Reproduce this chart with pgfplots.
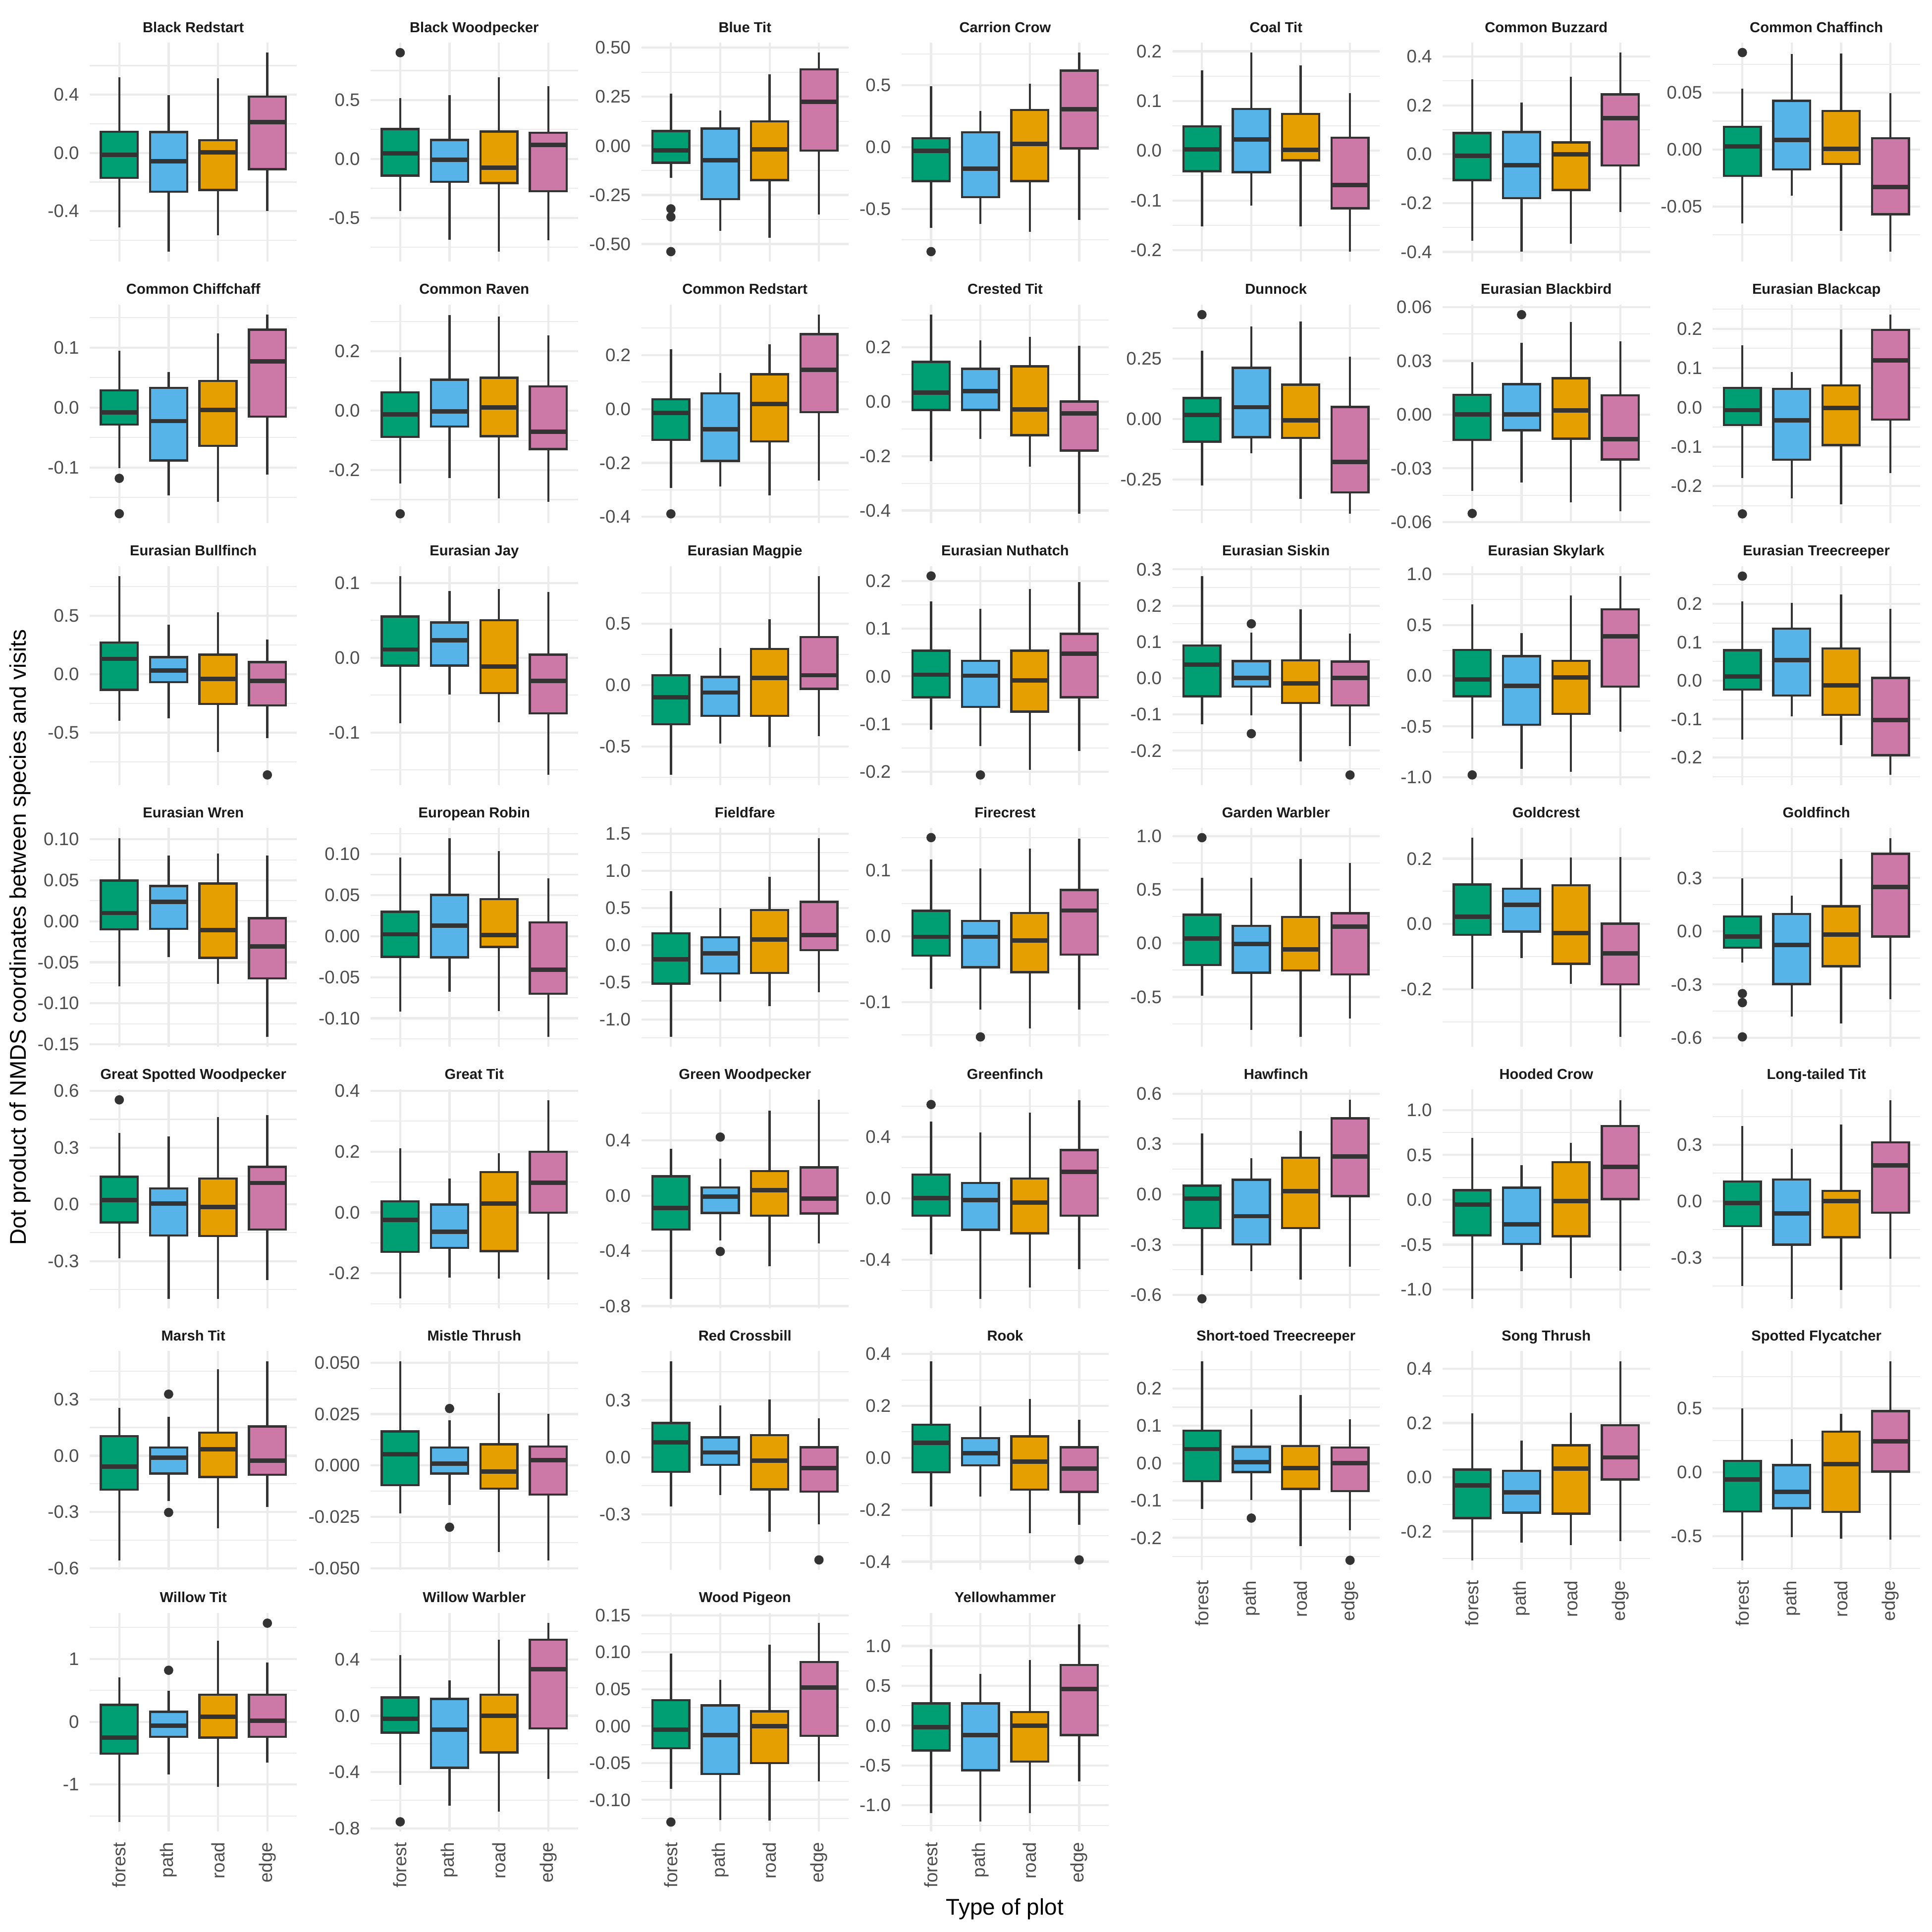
\documentclass[border=0pt]{standalone}
\usepackage{fontspec}
\setmainfont{Liberation Sans}
\usepackage{pgfplots}
\pgfplotsset{compat=1.18}
\usepgfplotslibrary{statistics}
\definecolor{cF}{HTML}{009E73}
\definecolor{cP}{HTML}{56B4E9}
\definecolor{cR}{HTML}{E69F00}
\definecolor{cE}{HTML}{CC79A7}
\definecolor{c20}{HTML}{333333}
\definecolor{c30}{HTML}{4D4D4D}
\definecolor{c10}{HTML}{1A1A1A}
\definecolor{gridc}{HTML}{EBEBEB}
\pgfplotsset{
  panel/.style={
    scale only axis, width=100.44pt, height=106.03pt, anchor=south west,
    xmin=0.4, xmax=4.6, xtick={1,2,3,4}, xticklabels={,,,},
    scaled y ticks=false, scaled x ticks=false,
    axis line style={draw=none}, major tick length=0pt, minor tick length=0pt,
    xmajorgrids=true, ymajorgrids=true, yminorgrids=true,
    major grid style={draw=gridc, line width=1pt},
    minor grid style={draw=gridc, line width=0.5pt},
    yticklabel style={font=\fontsize{8.8}{10}\selectfont, text=c30, inner sep=0pt, anchor=east},
    xticklabel style={font=\fontsize{8.8}{10}\selectfont, text=c30, inner sep=0pt, rotate=90, anchor=east},
    yticklabel shift=4.95pt, xticklabel shift=4.95pt,
    every axis title/.style={at={(0.5,1)}, anchor=base, yshift=5pt, inner sep=0pt, font=\fontsize{7}{8}\selectfont\bfseries, text=c10},
  },
  bottom/.style={xticklabels={forest,path,road,edge}},
  bx/.style={draw=c20, line width=1.07pt, solid, mark=*, mark size=2.1pt,
    mark options={draw=c20, fill=c20, line width=0.3pt, solid},
    boxplot/draw direction=y,
    boxplot/box extend=0.75, boxplot/whisker extend=0,
    boxplot/every median/.style={line width=2.13pt}},
}
\newcommand{\bx}[8]{\addplot[bx, fill=#2, boxplot prepared={draw direction=y, draw position=#1, lower whisker=#3, lower quartile=#4, median=#5, upper quartile=#6, upper whisker=#7}] coordinates {#8};}
\begin{document}
\begin{tikzpicture}
\useasboundingbox (0pt,0pt) rectangle (936pt,936pt);
% ---------------- Row 1
\begin{axis}[panel, at={(43.44pt,809.23pt)}, title={Black Redstart}, ymin=-0.747, ymax=0.757, ytick={-0.4,0,0.4}, yticklabels={-0.4,0.0,0.4}, minor ytick={-0.6,-0.2,0.2,0.6}]
\bx{1}{cF}{-0.513}{-0.172}{-0.014}{0.146}{0.520}{}
\bx{2}{cP}{-0.679}{-0.267}{-0.058}{0.143}{0.396}{}
\bx{3}{cR}{-0.566}{-0.254}{0.005}{0.088}{0.512}{}
\bx{4}{cE}{-0.400}{-0.111}{0.211}{0.388}{0.689}{}
\end{axis}
\begin{axis}[panel, at={(179.54pt,809.23pt)}, title={Black Woodpecker}, ymin=-0.872, ymax=0.986, ytick={-0.5,0,0.5}, yticklabels={-0.5,0.0,0.5}, minor ytick={-0.75,-0.25,0.25,0.75}]
\bx{1}{cF}{-0.442}{-0.142}{0.049}{0.254}{0.515}{(1,0.902)}
\bx{2}{cP}{-0.686}{-0.195}{-0.006}{0.161}{0.541}{}
\bx{3}{cR}{-0.788}{-0.205}{-0.073}{0.232}{0.694}{}
\bx{4}{cE}{-0.690}{-0.274}{0.118}{0.222}{0.617}{}
\end{axis}
\begin{axis}[panel, at={(310.68pt,809.23pt)}, title={Blue Tit}, ymin=-0.590, ymax=0.525, ytick={-0.5,-0.25,0,0.25,0.5}, yticklabels={-0.50,-0.25,0.00,0.25,0.50}, minor ytick={-0.375,-0.125,0.125,0.375}]
\bx{1}{cF}{-0.163}{-0.086}{-0.024}{0.075}{0.266}{(1,-0.321) (1,-0.362) (1,-0.539)}
\bx{2}{cP}{-0.433}{-0.271}{-0.073}{0.088}{0.181}{}
\bx{3}{cR}{-0.469}{-0.174}{-0.019}{0.125}{0.365}{}
\bx{4}{cE}{-0.349}{-0.024}{0.224}{0.390}{0.475}{}
\end{axis}
\begin{axis}[panel, at={(436.73pt,809.23pt)}, title={Carrion Crow}, ymin=-0.925, ymax=0.842, ytick={-0.5,0,0.5}, yticklabels={-0.5,0.0,0.5}, minor ytick={-0.75,-0.25,0.25,0.75}]
\bx{1}{cF}{-0.653}{-0.274}{-0.031}{0.071}{0.491}{(1,-0.844)}
\bx{2}{cP}{-0.619}{-0.405}{-0.176}{0.119}{0.292}{}
\bx{3}{cR}{-0.686}{-0.274}{0.025}{0.300}{0.512}{}
\bx{4}{cE}{-0.587}{-0.011}{0.306}{0.617}{0.763}{}
\end{axis}
\begin{axis}[panel, at={(567.96pt,809.23pt)}, title={Coal Tit}, ymin=-0.223, ymax=0.217, ytick={-0.2,-0.1,0,0.1,0.2}, yticklabels={-0.2,-0.1,0.0,0.1,0.2}, minor ytick={-0.15,-0.05,0.05,0.15}]
\bx{1}{cF}{-0.152}{-0.041}{0.003}{0.049}{0.162}{}
\bx{2}{cP}{-0.110}{-0.043}{0.023}{0.084}{0.197}{}
\bx{3}{cR}{-0.152}{-0.019}{0.002}{0.074}{0.172}{}
\bx{4}{cE}{-0.203}{-0.116}{-0.069}{0.026}{0.116}{}
\end{axis}
\begin{axis}[panel, at={(698.88pt,809.23pt)}, title={Common Buzzard}, ymin=-0.440, ymax=0.456, ytick={-0.4,-0.2,0,0.2,0.4}, yticklabels={-0.4,-0.2,0.0,0.2,0.4}, minor ytick={-0.3,-0.1,0.1,0.3}]
\bx{1}{cF}{-0.355}{-0.106}{-0.006}{0.087}{0.306}{}
\bx{2}{cP}{-0.399}{-0.180}{-0.046}{0.091}{0.212}{}
\bx{3}{cR}{-0.367}{-0.147}{-0.001}{0.048}{0.317}{}
\bx{4}{cE}{-0.237}{-0.046}{0.147}{0.245}{0.416}{}
\end{axis}
\begin{axis}[panel, at={(829.78pt,809.23pt)}, title={Common Chaffinch}, ymin=-0.0985, ymax=0.0939, ytick={-0.05,0,0.05}, yticklabels={-0.05,0.00,0.05}, minor ytick={-0.075,-0.025,0.025,0.075}]
\bx{1}{cF}{-0.0648}{-0.0232}{0.0028}{0.0199}{0.0536}{(1,0.0853)}
\bx{2}{cP}{-0.0406}{-0.0175}{0.0083}{0.0429}{0.0840}{}
\bx{3}{cR}{-0.0713}{-0.0126}{0.0006}{0.0340}{0.0845}{}
\bx{4}{cE}{-0.0897}{-0.0569}{-0.0328}{0.0100}{0.0496}{}
\end{axis}
% ---------------- Row 2
\begin{axis}[panel, at={(43.44pt,682.46pt)}, title={Common Chiffchaff}, ymin=-0.193, ymax=0.172, ytick={-0.1,0,0.1}, yticklabels={-0.1,0.0,0.1}, minor ytick={-0.15,-0.05,0.05,0.15}]
\bx{1}{cF}{-0.1008}{-0.0285}{-0.0079}{0.0285}{0.0944}{(1,-0.118) (1,-0.177)}
\bx{2}{cP}{-0.1465}{-0.0882}{-0.0225}{0.0330}{0.0589}{}
\bx{3}{cR}{-0.157}{-0.0637}{-0.0039}{0.0445}{0.124}{}
\bx{4}{cE}{-0.112}{-0.0149}{0.0772}{0.130}{0.155}{}
\end{axis}
\begin{axis}[panel, at={(179.54pt,682.46pt)}, title={Common Raven}, ymin=-0.380, ymax=0.358, ytick={-0.2,0,0.2}, yticklabels={-0.2,0.0,0.2}, minor ytick={-0.3,-0.1,0.1,0.3}]
\bx{1}{cF}{-0.246}{-0.089}{-0.013}{0.062}{0.181}{(1,-0.348)}
\bx{2}{cP}{-0.228}{-0.054}{-0.002}{0.104}{0.323}{}
\bx{3}{cR}{-0.296}{-0.086}{0.011}{0.111}{0.318}{}
\bx{4}{cE}{-0.307}{-0.130}{-0.071}{0.082}{0.254}{}
\end{axis}
\begin{axis}[panel, at={(310.68pt,682.46pt)}, title={Common Redstart}, ymin=-0.424, ymax=0.388, ytick={-0.4,-0.2,0,0.2}, yticklabels={-0.4,-0.2,0.0,0.2}, minor ytick={-0.3,-0.1,0.1,0.3}]
\bx{1}{cF}{-0.293}{-0.115}{-0.014}{0.036}{0.221}{(1,-0.389)}
\bx{2}{cP}{-0.287}{-0.193}{-0.075}{0.058}{0.133}{}
\bx{3}{cR}{-0.320}{-0.120}{0.018}{0.129}{0.241}{}
\bx{4}{cE}{-0.265}{-0.012}{0.145}{0.278}{0.350}{}
\end{axis}
\begin{axis}[panel, at={(436.73pt,682.46pt)}, title={Crested Tit}, ymin=-0.447, ymax=0.358, ytick={-0.4,-0.2,0,0.2}, yticklabels={-0.4,-0.2,0.0,0.2}, minor ytick={-0.3,-0.1,0.1,0.3}]
\bx{1}{cF}{-0.218}{-0.030}{0.034}{0.147}{0.320}{}
\bx{2}{cP}{-0.136}{-0.030}{0.039}{0.121}{0.226}{}
\bx{3}{cR}{-0.239}{-0.123}{-0.028}{0.130}{0.238}{}
\bx{4}{cE}{-0.412}{-0.179}{-0.042}{0.001}{0.206}{}
\end{axis}
\begin{axis}[panel, at={(567.96pt,682.46pt)}, title={Dunnock}, ymin=-0.430, ymax=0.473, ytick={-0.25,0,0.25}, yticklabels={-0.25,0.00,0.25}, minor ytick={-0.375,-0.125,0.125,0.375}]
\bx{1}{cF}{-0.273}{-0.093}{0.018}{0.087}{0.282}{(1,0.431)}
\bx{2}{cP}{-0.142}{-0.075}{0.049}{0.212}{0.383}{}
\bx{3}{cR}{-0.329}{-0.078}{-0.006}{0.142}{0.402}{}
\bx{4}{cE}{-0.390}{-0.303}{-0.177}{0.050}{0.257}{}
\end{axis}
\begin{axis}[panel, at={(698.88pt,682.46pt)}, title={Eurasian Blackbird}, ymin=-0.0607, ymax=0.0615, ytick={-0.06,-0.03,0,0.03,0.06}, yticklabels={-0.06,-0.03,0.00,0.03,0.06}, minor ytick={-0.045,-0.015,0.015,0.045}]
\bx{1}{cF}{-0.0425}{-0.0141}{0.0001}{0.0110}{0.0294}{(1,-0.0552)}
\bx{2}{cP}{-0.0379}{-0.0087}{0.0001}{0.0170}{0.0402}{(2,0.0558)}
\bx{3}{cR}{-0.049}{-0.0134}{0.0024}{0.0203}{0.0516}{}
\bx{4}{cE}{-0.054}{-0.025}{-0.0137}{0.0107}{0.0410}{}
\end{axis}
\begin{axis}[panel, at={(829.78pt,682.46pt)}, title={Eurasian Blackcap}, ymin=-0.295, ymax=0.262, ytick={-0.2,-0.1,0,0.1,0.2}, yticklabels={-0.2,-0.1,0.0,0.1,0.2}, minor ytick={-0.25,-0.15,-0.05,0.05,0.15,0.25}]
\bx{1}{cF}{-0.180}{-0.045}{-0.007}{0.050}{0.158}{(1,-0.271)}
\bx{2}{cP}{-0.232}{-0.133}{-0.033}{0.047}{0.090}{}
\bx{3}{cR}{-0.246}{-0.096}{-0.001}{0.056}{0.198}{}
\bx{4}{cE}{-0.167}{-0.031}{0.120}{0.197}{0.236}{}
\end{axis}
% ---------------- Row 3
\begin{axis}[panel, at={(43.44pt,555.69pt)}, title={Eurasian Bullfinch}, ymin=-0.947, ymax=0.924, ytick={-0.5,0,0.5}, yticklabels={-0.5,0.0,0.5}, minor ytick={-0.75,-0.25,0.25,0.75}]
\bx{1}{cF}{-0.399}{-0.134}{0.131}{0.270}{0.840}{}
\bx{2}{cP}{-0.377}{-0.068}{0.033}{0.146}{0.425}{}
\bx{3}{cR}{-0.666}{-0.254}{-0.039}{0.168}{0.530}{}
\bx{4}{cE}{-0.548}{-0.266}{-0.059}{0.103}{0.298}{(4,-0.861)}
\end{axis}
\begin{axis}[panel, at={(179.54pt,555.69pt)}, title={Eurasian Jay}, ymin=-0.170, ymax=0.1225, ytick={-0.1,0,0.1}, yticklabels={-0.1,0.0,0.1}, minor ytick={-0.15,-0.05,0.05}]
\bx{1}{cF}{-0.0872}{-0.0104}{0.0111}{0.0551}{0.1094}{}
\bx{2}{cP}{-0.0493}{-0.0104}{0.0235}{0.0472}{0.0890}{}
\bx{3}{cR}{-0.0859}{-0.0470}{-0.0118}{0.0502}{0.0918}{}
\bx{4}{cE}{-0.1566}{-0.0741}{-0.0307}{0.0043}{0.0881}{}
\end{axis}
\begin{axis}[panel, at={(310.68pt,555.69pt)}, title={Eurasian Magpie}, ymin=-0.811, ymax=0.967, ytick={-0.5,0,0.5}, yticklabels={-0.5,0.0,0.5}, minor ytick={-0.75,-0.25,0.25,0.75}]
\bx{1}{cF}{-0.729}{-0.317}{-0.098}{0.081}{0.459}{}
\bx{2}{cP}{-0.475}{-0.249}{-0.060}{0.067}{0.301}{}
\bx{3}{cR}{-0.503}{-0.249}{0.059}{0.294}{0.534}{}
\bx{4}{cE}{-0.413}{-0.029}{0.081}{0.390}{0.887}{}
\end{axis}
\begin{axis}[panel, at={(436.73pt,555.69pt)}, title={Eurasian Nuthatch}, ymin=-0.2275, ymax=0.231, ytick={-0.2,-0.1,0,0.1,0.2}, yticklabels={-0.2,-0.1,0.0,0.1,0.2}, minor ytick={-0.15,-0.05,0.05,0.15}]
\bx{1}{cF}{-0.112}{-0.0436}{0.0035}{0.0538}{0.1566}{(1,0.2104)}
\bx{2}{cP}{-0.1456}{-0.0638}{0.0014}{0.0326}{0.1417}{(2,-0.2065)}
\bx{3}{cR}{-0.1959}{-0.0737}{-0.0081}{0.0538}{0.1831}{}
\bx{4}{cE}{-0.1562}{-0.0436}{0.0475}{0.0893}{0.1973}{}
\end{axis}
\begin{axis}[panel, at={(567.96pt,555.69pt)}, title={Eurasian Siskin}, ymin=-0.2945, ymax=0.309, ytick={-0.2,-0.1,0,0.1,0.2,0.3}, yticklabels={-0.2,-0.1,0.0,0.1,0.2,0.3}, minor ytick={-0.25,-0.15,-0.05,0.05,0.15,0.25}]
\bx{1}{cF}{-0.127}{-0.050}{0.038}{0.090}{0.282}{}
\bx{2}{cP}{-0.103}{-0.023}{0.001}{0.047}{0.126}{(2,0.150) (2,-0.153)}
\bx{3}{cR}{-0.230}{-0.068}{-0.014}{0.049}{0.190}{}
\bx{4}{cE}{-0.187}{-0.075}{0.001}{0.046}{0.123}{(4,-0.267)}
\end{axis}
\begin{axis}[panel, at={(698.88pt,555.69pt)}, title={Eurasian Skylark}, ymin=-1.077, ymax=1.080, ytick={-1,-0.5,0,0.5,1}, yticklabels={-1.0,-0.5,0.0,0.5,1.0}, minor ytick={-0.75,-0.25,0.25,0.75}]
\bx{1}{cF}{-0.620}{-0.203}{-0.037}{0.255}{0.705}{(1,-0.978)}
\bx{2}{cP}{-0.920}{-0.483}{-0.098}{0.193}{0.422}{}
\bx{3}{cR}{-0.945}{-0.375}{-0.017}{0.147}{0.793}{}
\bx{4}{cE}{-0.550}{-0.108}{0.390}{0.655}{0.983}{}
\end{axis}
\begin{axis}[panel, at={(829.78pt,555.69pt)}, title={Eurasian Treecreeper}, ymin=-0.2715, ymax=0.298, ytick={-0.2,-0.1,0,0.1,0.2}, yticklabels={-0.2,-0.1,0.0,0.1,0.2}, minor ytick={-0.25,-0.15,-0.05,0.05,0.15,0.25}]
\bx{1}{cF}{-0.154}{-0.023}{0.011}{0.079}{0.206}{(1,0.272)}
\bx{2}{cP}{-0.093}{-0.039}{0.053}{0.135}{0.202}{}
\bx{3}{cR}{-0.168}{-0.089}{-0.012}{0.084}{0.224}{}
\bx{4}{cE}{-0.245}{-0.194}{-0.102}{0.007}{0.187}{}
\end{axis}
% ---------------- Row 4
\begin{axis}[panel, at={(43.44pt,428.92pt)}, title={Eurasian Wren}, ymin=-0.1528, ymax=0.114, ytick={-0.15,-0.1,-0.05,0,0.05,0.1}, yticklabels={-0.15,-0.10,-0.05,0.00,0.05,0.10}, minor ytick={-0.125,-0.075,-0.025,0.025,0.075}]
\bx{1}{cF}{-0.0791}{-0.0099}{0.0101}{0.0498}{0.1013}{}
\bx{2}{cP}{-0.0435}{-0.0091}{0.0235}{0.0430}{0.0803}{}
\bx{3}{cR}{-0.0762}{-0.0445}{-0.0107}{0.0461}{0.0828}{}
\bx{4}{cE}{-0.1409}{-0.0696}{-0.0305}{0.0039}{0.0803}{}
\end{axis}
\begin{axis}[panel, at={(179.54pt,428.92pt)}, title={European Robin}, ymin=-0.1346, ymax=0.1320, ytick={-0.1,-0.05,0,0.05,0.1}, yticklabels={-0.10,-0.05,0.00,0.05,0.10}, minor ytick={-0.125,-0.075,-0.025,0.025,0.075,0.125}]
\bx{1}{cF}{-0.0918}{-0.0253}{0.0023}{0.0297}{0.0958}{}
\bx{2}{cP}{-0.0675}{-0.0259}{0.0128}{0.0502}{0.1194}{}
\bx{3}{cR}{-0.0912}{-0.0130}{0.0014}{0.0451}{0.1034}{}
\bx{4}{cE}{-0.1227}{-0.0700}{-0.0408}{0.0169}{0.0704}{}
\end{axis}
\begin{axis}[panel, at={(310.68pt,428.92pt)}, title={Fieldfare}, ymin=-1.366, ymax=1.582, ytick={-1,-0.5,0,0.5,1,1.5}, yticklabels={-1.0,-0.5,0.0,0.5,1.0,1.5}, minor ytick={-1.25,-0.75,-0.25,0.25,0.75,1.25}]
\bx{1}{cF}{-1.234}{-0.517}{-0.187}{0.162}{0.731}{}
\bx{2}{cP}{-0.760}{-0.380}{-0.112}{0.109}{0.499}{}
\bx{3}{cR}{-0.817}{-0.373}{0.077}{0.474}{0.924}{}
\bx{4}{cE}{-0.635}{-0.066}{0.139}{0.583}{1.444}{}
\end{axis}
\begin{axis}[panel, at={(436.73pt,428.92pt)}, title={Firecrest}, ymin=-0.168, ymax=0.165, ytick={-0.1,0,0.1}, yticklabels={-0.1,0.0,0.1}, minor ytick={-0.15,-0.05,0.05,0.15}]
\bx{1}{cF}{-0.080}{-0.0296}{-0.0008}{0.0386}{0.117}{(1,0.1501)}
\bx{2}{cP}{-0.1113}{-0.047}{-0.0008}{0.0231}{0.1033}{(2,-0.1532)}
\bx{3}{cR}{-0.140}{-0.0548}{-0.0067}{0.0352}{0.1337}{}
\bx{4}{cE}{-0.1113}{-0.0278}{0.0391}{0.0704}{0.1488}{}
\end{axis}
\begin{axis}[panel, at={(567.96pt,428.92pt)}, title={Garden Warbler}, ymin=-0.963, ymax=1.077, ytick={-0.5,0,0.5,1}, yticklabels={-0.5,0.0,0.5,1.0}, minor ytick={-0.75,-0.25,0.25,0.75}]
\bx{1}{cF}{-0.490}{-0.203}{0.046}{0.266}{0.612}{(1,0.985)}
\bx{2}{cP}{-0.809}{-0.274}{-0.006}{0.164}{0.609}{}
\bx{3}{cR}{-0.872}{-0.253}{-0.057}{0.246}{0.785}{}
\bx{4}{cE}{-0.699}{-0.290}{0.156}{0.280}{0.749}{}
\end{axis}
\begin{axis}[panel, at={(698.88pt,428.92pt)}, title={Goldcrest}, ymin=-0.376, ymax=0.295, ytick={-0.2,0,0.2}, yticklabels={-0.2,0.0,0.2}, minor ytick={-0.3,-0.1,0.1}]
\bx{1}{cF}{-0.198}{-0.033}{0.022}{0.121}{0.264}{}
\bx{2}{cP}{-0.104}{-0.023}{0.059}{0.108}{0.200}{}
\bx{3}{cR}{-0.183}{-0.122}{-0.028}{0.119}{0.204}{}
\bx{4}{cE}{-0.346}{-0.185}{-0.090}{0.001}{0.205}{}
\end{axis}
\begin{axis}[panel, at={(829.78pt,428.92pt)}, title={Goldfinch}, ymin=-0.650, ymax=0.583, ytick={-0.6,-0.3,0,0.3}, yticklabels={-0.6,-0.3,0.0,0.3}, minor ytick={-0.45,-0.15,0.15,0.45}]
\bx{1}{cF}{-0.176}{-0.092}{-0.030}{0.084}{0.298}{(1,-0.351) (1,-0.402) (1,-0.595)}
\bx{2}{cP}{-0.481}{-0.297}{-0.078}{0.098}{0.200}{}
\bx{3}{cR}{-0.519}{-0.197}{-0.018}{0.141}{0.408}{}
\bx{4}{cE}{-0.383}{-0.030}{0.250}{0.436}{0.525}{}
\end{axis}
% ---------------- Row 5
\begin{axis}[panel, at={(43.44pt,302.15pt)}, title={Great Spotted Woodpecker}, ymin=-0.550, ymax=0.608, ytick={-0.3,0,0.3,0.6}, yticklabels={-0.3,0.0,0.3,0.6}, minor ytick={-0.45,-0.15,0.15,0.45}]
\bx{1}{cF}{-0.285}{-0.095}{0.022}{0.146}{0.379}{(1,0.553)}
\bx{2}{cP}{-0.500}{-0.165}{0.005}{0.084}{0.359}{}
\bx{3}{cR}{-0.500}{-0.167}{-0.015}{0.137}{0.462}{}
\bx{4}{cE}{-0.400}{-0.133}{0.113}{0.198}{0.472}{}
\end{axis}
\begin{axis}[panel, at={(179.54pt,302.15pt)}, title={Great Tit}, ymin=-0.315, ymax=0.404, ytick={-0.2,0,0.2,0.4}, yticklabels={-0.2,0.0,0.2,0.4}, minor ytick={-0.3,-0.1,0.1,0.3}]
\bx{1}{cF}{-0.283}{-0.129}{-0.024}{0.037}{0.210}{}
\bx{2}{cP}{-0.214}{-0.116}{-0.063}{0.026}{0.111}{}
\bx{3}{cR}{-0.218}{-0.127}{0.029}{0.133}{0.195}{}
\bx{4}{cE}{-0.220}{-0.001}{0.098}{0.199}{0.368}{}
\end{axis}
\begin{axis}[panel, at={(310.68pt,302.15pt)}, title={Green Woodpecker}, ymin=-0.816, ymax=0.770, ytick={-0.8,-0.4,0,0.4}, yticklabels={-0.8,-0.4,0.0,0.4}, minor ytick={-0.6,-0.2,0.2,0.6}]
\bx{1}{cF}{-0.748}{-0.245}{-0.089}{0.141}{0.340}{}
\bx{2}{cP}{-0.325}{-0.125}{-0.007}{0.061}{0.270}{(2,0.425) (2,-0.404)}
\bx{3}{cR}{-0.512}{-0.145}{0.040}{0.178}{0.615}{}
\bx{4}{cE}{-0.346}{-0.129}{-0.020}{0.206}{0.694}{}
\end{axis}
\begin{axis}[panel, at={(436.73pt,302.15pt)}, title={Greenfinch}, ymin=-0.716, ymax=0.708, ytick={-0.4,0,0.4}, yticklabels={-0.4,0.0,0.4}, minor ytick={-0.6,-0.2,0.2,0.6}]
\bx{1}{cF}{-0.364}{-0.114}{0.000}{0.155}{0.500}{(1,0.610)}
\bx{2}{cP}{-0.654}{-0.205}{-0.013}{0.100}{0.429}{}
\bx{3}{cR}{-0.580}{-0.228}{-0.028}{0.128}{0.557}{}
\bx{4}{cE}{-0.462}{-0.114}{0.173}{0.314}{0.639}{}
\end{axis}
\begin{axis}[panel, at={(567.96pt,302.15pt)}, title={Hawfinch}, ymin=-0.679, ymax=0.625, ytick={-0.6,-0.3,0,0.3,0.6}, yticklabels={-0.6,-0.3,0.0,0.3,0.6}, minor ytick={-0.45,-0.15,0.15,0.45}]
\bx{1}{cF}{-0.481}{-0.201}{-0.024}{0.051}{0.363}{(1,-0.622)}
\bx{2}{cP}{-0.459}{-0.298}{-0.130}{0.087}{0.215}{}
\bx{3}{cR}{-0.509}{-0.201}{0.018}{0.219}{0.379}{}
\bx{4}{cE}{-0.432}{-0.011}{0.225}{0.453}{0.563}{}
\end{axis}
\begin{axis}[panel, at={(698.88pt,302.15pt)}, title={Hooded Crow}, ymin=-1.210, ymax=1.230, ytick={-1,-0.5,0,0.5,1}, yticklabels={-1.0,-0.5,0.0,0.5,1.0}, minor ytick={-0.75,-0.25,0.25,0.75}]
\bx{1}{cF}{-1.105}{-0.394}{-0.053}{0.107}{0.692}{}
\bx{2}{cP}{-0.798}{-0.491}{-0.275}{0.136}{0.385}{}
\bx{3}{cR}{-0.875}{-0.407}{-0.015}{0.418}{0.635}{}
\bx{4}{cE}{-0.790}{0.008}{0.369}{0.822}{1.112}{}
\end{axis}
\begin{axis}[panel, at={(829.78pt,302.15pt)}, title={Long-tailed Tit}, ymin=-0.568, ymax=0.594, ytick={-0.3,0,0.3}, yticklabels={-0.3,0.0,0.3}, minor ytick={-0.45,-0.15,0.15,0.45}]
\bx{1}{cF}{-0.450}{-0.131}{-0.008}{0.106}{0.399}{}
\bx{2}{cP}{-0.517}{-0.230}{-0.064}{0.116}{0.280}{}
\bx{3}{cR}{-0.471}{-0.190}{0.001}{0.055}{0.408}{}
\bx{4}{cE}{-0.306}{-0.061}{0.190}{0.313}{0.538}{}
\end{axis}
% ---------------- Row 6
\begin{axis}[panel, at={(43.44pt,175.38pt)}, title={Marsh Tit}, ymin=-0.608, ymax=0.556, ytick={-0.6,-0.3,0,0.3}, yticklabels={-0.6,-0.3,0.0,0.3}, minor ytick={-0.45,-0.15,0.15,0.45}]
\bx{1}{cF}{-0.556}{-0.181}{-0.059}{0.104}{0.253}{}
\bx{2}{cP}{-0.241}{-0.095}{-0.010}{0.044}{0.208}{(2,0.327) (2,-0.302)}
\bx{3}{cR}{-0.385}{-0.113}{0.033}{0.123}{0.459}{}
\bx{4}{cE}{-0.273}{-0.102}{-0.026}{0.155}{0.502}{}
\end{axis}
\begin{axis}[panel, at={(179.54pt,175.38pt)}, title={Mistle Thrush}, ymin=-0.0508, ymax=0.0556, ytick={-0.05,-0.025,0,0.025,0.05}, yticklabels={-0.050,-0.025,0.000,0.025,0.050}, minor ytick={-0.0375,-0.0125,0.0125,0.0375}]
\bx{1}{cF}{-0.0233}{-0.0095}{0.0055}{0.0166}{0.0507}{}
\bx{2}{cP}{-0.0191}{-0.0039}{0.0010}{0.0088}{0.0219}{(2,0.0277) (2,-0.0300)}
\bx{3}{cR}{-0.0420}{-0.0113}{-0.0030}{0.0103}{0.0352}{}
\bx{4}{cE}{-0.0461}{-0.0142}{0.0025}{0.0092}{0.0250}{}
\end{axis}
\begin{axis}[panel, at={(310.68pt,175.38pt)}, title={Red Crossbill}, ymin=-0.593, ymax=0.558, ytick={-0.3,0,0.3}, yticklabels={-0.3,0.0,0.3}, minor ytick={-0.45,-0.15,0.15,0.45}]
\bx{1}{cF}{-0.258}{-0.076}{0.078}{0.180}{0.505}{}
\bx{2}{cP}{-0.199}{-0.040}{0.025}{0.105}{0.273}{}
\bx{3}{cR}{-0.393}{-0.169}{-0.017}{0.116}{0.305}{}
\bx{4}{cE}{-0.353}{-0.181}{-0.058}{0.053}{0.204}{(4,-0.540)}
\end{axis}
\begin{axis}[panel, at={(436.73pt,175.38pt)}, title={Rook}, ymin=-0.432, ymax=0.411, ytick={-0.4,-0.2,0,0.2,0.4}, yticklabels={-0.4,-0.2,0.0,0.2,0.4}, minor ytick={-0.3,-0.1,0.1,0.3}]
\bx{1}{cF}{-0.187}{-0.056}{0.058}{0.128}{0.372}{}
\bx{2}{cP}{-0.150}{-0.029}{0.018}{0.076}{0.198}{}
\bx{3}{cR}{-0.291}{-0.122}{-0.014}{0.083}{0.227}{}
\bx{4}{cE}{-0.257}{-0.131}{-0.042}{0.041}{0.147}{(4,-0.393)}
\end{axis}
\begin{axis}[panel, bottom, at={(567.96pt,175.38pt)}, title={Short-toed Treecreeper}, ymin=-0.286, ymax=0.300, ytick={-0.2,-0.1,0,0.1,0.2}, yticklabels={-0.2,-0.1,0.0,0.1,0.2}, minor ytick={-0.25,-0.15,-0.05,0.05,0.15,0.25}]
\bx{1}{cF}{-0.122}{-0.048}{0.038}{0.087}{0.273}{}
\bx{2}{cP}{-0.099}{-0.024}{0.003}{0.044}{0.144}{(2,-0.147)}
\bx{3}{cR}{-0.222}{-0.069}{-0.013}{0.046}{0.183}{}
\bx{4}{cE}{-0.180}{-0.075}{0.000}{0.042}{0.117}{(4,-0.260)}
\end{axis}
\begin{axis}[panel, bottom, at={(698.88pt,175.38pt)}, title={Song Thrush}, ymin=-0.342, ymax=0.465, ytick={-0.2,0,0.2,0.4}, yticklabels={-0.2,0.0,0.2,0.4}, minor ytick={-0.3,-0.1,0.1,0.3}]
\bx{1}{cF}{-0.306}{-0.151}{-0.030}{0.028}{0.236}{}
\bx{2}{cP}{-0.241}{-0.131}{-0.055}{0.024}{0.135}{}
\bx{3}{cR}{-0.251}{-0.134}{0.032}{0.118}{0.238}{}
\bx{4}{cE}{-0.235}{-0.008}{0.073}{0.192}{0.428}{}
\end{axis}
\begin{axis}[panel, bottom, at={(829.78pt,175.38pt)}, title={Spotted Flycatcher}, ymin=-0.763, ymax=0.948, ytick={-0.5,0,0.5}, yticklabels={-0.5,0.0,0.5}, minor ytick={-0.75,-0.25,0.25,0.75}]
\bx{1}{cF}{-0.687}{-0.306}{-0.055}{0.090}{0.499}{}
\bx{2}{cP}{-0.507}{-0.280}{-0.151}{0.057}{0.262}{}
\bx{3}{cR}{-0.518}{-0.309}{0.066}{0.318}{0.456}{}
\bx{4}{cE}{-0.527}{0.007}{0.244}{0.480}{0.869}{}
\end{axis}
% ---------------- Row 7
\begin{axis}[panel, bottom, at={(43.44pt,48.61pt)}, title={Willow Tit}, ymin=-1.75, ymax=1.735, ytick={-1,0,1}, yticklabels={-1,0,1}, minor ytick={-1.5,-0.5,0.5,1.5}]
\bx{1}{cF}{-1.60}{-0.51}{-0.25}{0.27}{0.71}{}
\bx{2}{cP}{-0.84}{-0.24}{-0.06}{0.16}{0.49}{(2,0.82)}
\bx{3}{cR}{-1.04}{-0.25}{0.08}{0.43}{1.29}{}
\bx{4}{cE}{-0.65}{-0.24}{0.02}{0.43}{0.94}{(4,1.57)}
\end{axis}
\begin{axis}[panel, bottom, at={(179.54pt,48.61pt)}, title={Willow Warbler}, ymin=-0.823, ymax=0.731, ytick={-0.8,-0.4,0,0.4}, yticklabels={-0.8,-0.4,0.0,0.4}, minor ytick={-0.6,-0.2,0.2,0.6}]
\bx{1}{cF}{-0.49}{-0.12}{-0.02}{0.13}{0.43}{(1,-0.753)}
\bx{2}{cP}{-0.64}{-0.37}{-0.10}{0.12}{0.25}{}
\bx{3}{cR}{-0.68}{-0.26}{0.00}{0.15}{0.54}{}
\bx{4}{cE}{-0.45}{-0.09}{0.33}{0.54}{0.66}{}
\end{axis}
\begin{axis}[panel, bottom, at={(310.68pt,48.61pt)}, title={Wood Pigeon}, ymin=-0.143, ymax=0.1535, ytick={-0.1,-0.05,0,0.05,0.1,0.15}, yticklabels={-0.10,-0.05,0.00,0.05,0.10,0.15}, minor ytick={-0.125,-0.075,-0.025,0.025,0.075,0.125}]
\bx{1}{cF}{-0.085}{-0.030}{-0.005}{0.035}{0.098}{(1,-0.130)}
\bx{2}{cP}{-0.127}{-0.065}{-0.012}{0.028}{0.063}{}
\bx{3}{cR}{-0.128}{-0.050}{0.000}{0.020}{0.110}{}
\bx{4}{cE}{-0.075}{-0.013}{0.052}{0.087}{0.140}{}
\end{axis}
\begin{axis}[panel, bottom, at={(436.73pt,48.61pt)}, title={Yellowhammer}, ymin=-1.33, ymax=1.415, ytick={-1,-0.5,0,0.5,1}, yticklabels={-1.0,-0.5,0.0,0.5,1.0}, minor ytick={-1.25,-0.75,-0.25,0.25,0.75,1.25}]
\bx{1}{cF}{-1.10}{-0.31}{-0.02}{0.28}{0.96}{}
\bx{2}{cP}{-1.20}{-0.56}{-0.12}{0.28}{0.65}{}
\bx{3}{cR}{-1.10}{-0.45}{0.00}{0.17}{0.82}{}
\bx{4}{cE}{-0.70}{-0.12}{0.46}{0.76}{1.27}{}
\end{axis}
% ---------------- axis titles
\node[rotate=90, font=\fontsize{11}{13}\selectfont, text=black, inner sep=0pt] at (9.84pt,481.9pt) {Dot product of NMDS coordinates between species and visits};
\node[anchor=base, font=\fontsize{11}{13}\selectfont, text=black, inner sep=0pt] at (486.8pt,8.2pt) {Type of plot};
\end{tikzpicture}
\end{document}
